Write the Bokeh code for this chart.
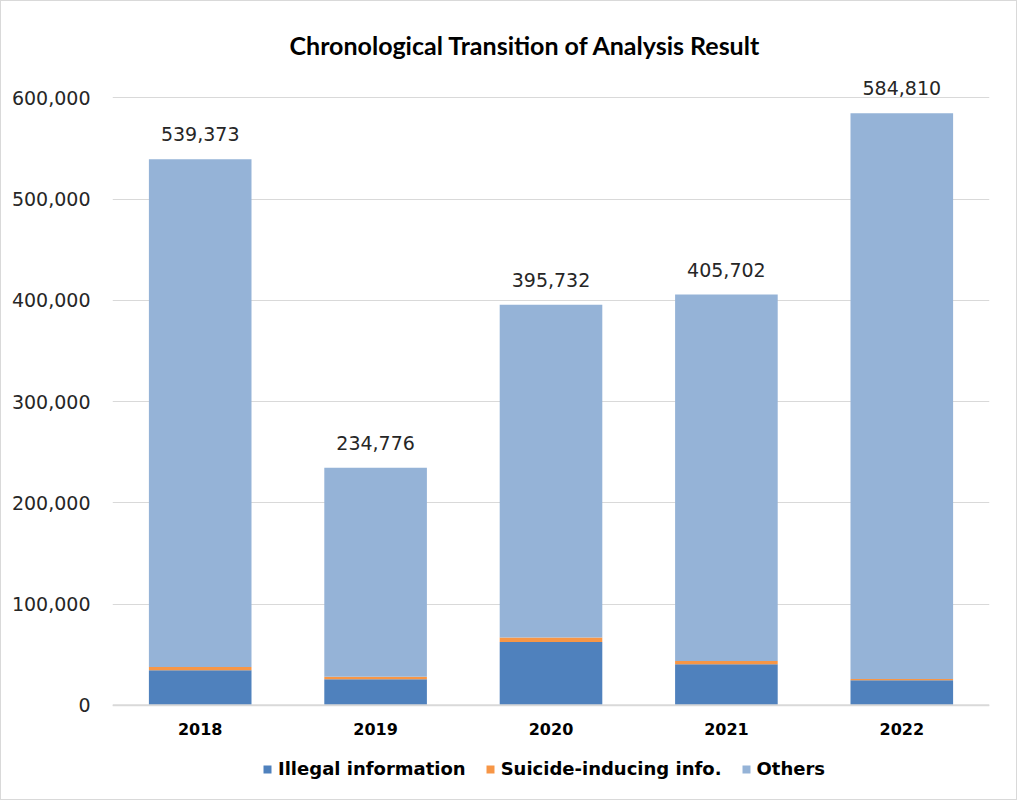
from bokeh.plotting import figure
from bokeh.models import (ColumnDataSource, FactorRange, Range1d, FixedTicker, NumeralTickFormatter,
                          Legend, LegendItem, LabelSet, Span)
from bokeh.core.properties import value
from bokeh.embed import file_html
from bokeh.resources import INLINE

years = ["2018", "2019", "2020", "2021", "2022"]
totals = [539373, 234776, 395732, 405702, 584810]
illegal = [34800, 25700, 62500, 40500, 24700]
suicide = [3000, 2600, 4600, 3300, 1300]
others = [t - a - b for t, a, b in zip(totals, illegal, suicide)]
total_labels = ["539,373", "234,776", "395,732", "405,702", "584,810"]
series_names = ["Illegal information", "Suicide-inducing info.", "Others"]
colors = ["#4F81BD", "#F79646", "#95B3D7"]

src = ColumnDataSource(dict(year=years, illegal=illegal, suicide=suicide, others=others,
                            total=totals, label=total_labels, base=[0] * len(years)))

p = figure(x_range=FactorRange(*years), y_range=Range1d(-90000, 628000),
           frame_width=877, frame_height=727, output_backend="svg", toolbar_location=None,
           min_border_left=111, min_border_right=27, min_border_top=68, min_border_bottom=3)
p.styles = {"border": "1px solid #d9d9d9"}

renderers = p.vbar_stack(["illegal", "suicide", "others"], x="year", width=0.585, source=src,
                         color=colors, line_color=None)

labels = LabelSet(x="year", y="total", text="label", source=src, text_align="center",
                  text_baseline="bottom", y_offset=18, text_font=value("DejaVu Sans"),
                  text_font_size=value("19px"), text_color="#262626")
p.add_layout(labels)

# category labels under the baseline
xlabels = LabelSet(x="year", y="base", text="year", source=src, text_align="center",
                   text_baseline="middle", y_offset=-24, text_font=value("DejaVu Sans"),
                   text_font_style="bold", text_font_size=value("16px"), text_color="#000000")
p.add_layout(xlabels)

p.title.text = "Chronological Transition of Analysis Result"
p.title.text_font = "Lato"
p.title.text_font_style = "bold"
p.title.text_font_size = "25px"
p.title.text_color = "#000000"
p.title.align = "left"
p.title.offset = 177
p.title.standoff = 19

p.yaxis.ticker = FixedTicker(ticks=[0, 100000, 200000, 300000, 400000, 500000, 600000])
p.yaxis.formatter = NumeralTickFormatter(format="0,0")
p.yaxis.axis_line_color = None
p.yaxis.major_tick_line_color = None
p.yaxis.minor_tick_line_color = None
p.yaxis.major_label_text_font = "DejaVu Sans"
p.yaxis.major_label_text_font_size = "19px"
p.yaxis.major_label_text_color = "#262626"
p.yaxis.major_label_standoff = 16

p.xaxis.visible = False

p.xgrid.grid_line_color = None
p.ygrid.grid_line_color = "#d9d9d9"
p.ygrid.grid_line_width = 1
p.outline_line_color = None

baseline = Span(location=0, dimension="width", line_color="#d9d9d9", line_width=2)
p.add_layout(baseline)

legend = Legend(items=[LegendItem(label=n, renderers=[r]) for n, r in zip(series_names, renderers)],
                orientation="horizontal", location=(150, 17))
legend.label_text_font = "DejaVu Sans"
legend.label_text_font_style = "bold"
legend.label_text_font_size = "18px"
legend.label_text_color = "#000000"
legend.glyph_width = 10
legend.glyph_height = 10
legend.spacing = 19
legend.label_standoff = 6
legend.border_line_color = None
legend.background_fill_alpha = 0
legend.margin = 0
legend.padding = 2
p.add_layout(legend)

open("out.html", "w").write(file_html(p, INLINE))
